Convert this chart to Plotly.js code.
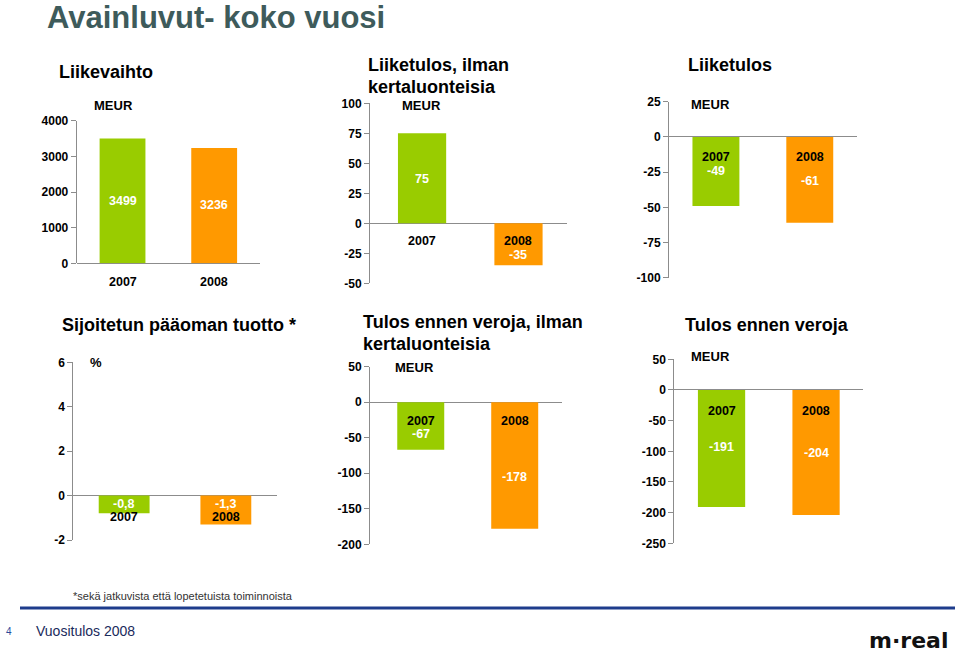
<!DOCTYPE html>
<html>
<head>
<meta charset="utf-8">
<script src="https://cdn.plot.ly/plotly-3.0.1.min.js"></script>
<style>
  html, body { margin: 0; padding: 0; background: #fff; }
  #chart { width: 960px; height: 652px; }
</style>
</head>
<body>
<div id="chart"></div>
<script>
// ---- Data ----
const years = ['2007', '2008'];
const liikevaihto = [3499, 3236];
const liiketulosIlman = [75, -35];
const liiketulos = [-49, -61];
const sijoitetunTuotto = [-0.8, -1.3];
const tulosEnnenIlman = [-67, -178];
const tulosEnnen = [-191, -204];

const liikevaihtoLabels = ['3499', '3236'];
const liiketulosIlmanLabels = ['75', '-35'];
const liiketulosLabels = ['-49', '-61'];
const sijoitetunLabels = ['-0,8', '-1,3'];
const tulosEnnenIlmanLabels = ['-67', '-178'];
const tulosEnnenLabels = ['-191', '-204'];

// tick values per chart
const ticks1 = [0, 1000, 2000, 3000, 4000];
const ticks2 = [-50, -25, 0, 25, 50, 75, 100];
const ticks3 = [-100, -75, -50, -25, 0, 25];
const ticks4 = [-2, 0, 2, 4, 6];
const ticks5 = [-200, -150, -100, -50, 0, 50];
const ticks6 = [-250, -200, -150, -100, -50, 0, 50];

const chartTitles = [
  ['Liikevaihto'],
  ['Liiketulos, ilman', 'kertaluonteisia'],
  ['Liiketulos'],
  ['Sijoitetun pääoman tuotto *'],
  ['Tulos ennen veroja, ilman', 'kertaluonteisia'],
  ['Tulos ennen veroja']
];
const unitLabels = ['MEUR', 'MEUR', 'MEUR', '%', 'MEUR', 'MEUR'];

// ---- Layout helpers ----
const W = 960, H = 652;
const px = v => v / W;
const py = v => 1 - v / H;
const FONT = 'Liberation Sans, Arial, sans-serif';
const GREEN = '#99cc00', ORANGE = '#ff9900', AXIS = '#8c8c8c';

const charts = [
  { vals: liikevaihto, labels: liikevaihtoLabels, ticks: ticks1,
    x0: 76.7, x1: 260, y0: 120.7, y1: 263.3, range: [0, 4000], xr: [-0.5, 1.5],
    title: [57, [72]], unit: [92, 106], yearShift: [-19, -19], valShift: [62, 58] },
  { vals: liiketulosIlman, labels: liiketulosIlmanLabels, ticks: ticks2,
    x0: 370, x1: 566.7, y0: 103.3, y1: 283.3, range: [-50, 100], xr: [-0.54, 1.5],
    title: [366, [65, 87]], unit: [400, 106], yearShift: [-18, -18], valShift: [44, -32] },
  { vals: liiketulos, labels: liiketulosLabels, ticks: ticks3,
    x0: 669, x1: 856.7, y0: 101.7, y1: 277.7, range: [-100, 25], xr: [-0.5, 1.5],
    title: [686, [65]], unit: [689, 105], yearShift: [-20, -20], valShift: [-34, -44] },
  { vals: sijoitetunTuotto, labels: sijoitetunLabels, ticks: ticks4,
    x0: 73.3, x1: 276.7, y0: 362.3, y1: 540, range: [-2, 6], xr: [-0.5, 1.5],
    title: [60, [325]], unit: [88, 362], yearShift: [-21, -21], valShift: [-8, -8] },
  { vals: tulosEnnenIlman, labels: tulosEnnenIlmanLabels, ticks: ticks5,
    x0: 370, x1: 561.7, y0: 366.7, y1: 544.3, range: [-200, 50], xr: [-0.54, 1.5],
    title: [361, [322, 344]], unit: [393, 367], yearShift: [-19, -19], valShift: [-32, -75] },
  { vals: tulosEnnen, labels: tulosEnnenLabels, ticks: ticks6,
    x0: 674.3, x1: 863.3, y0: 359.3, y1: 543.3, range: [-250, 50], xr: [-0.5, 1.5],
    title: [683, [325]], unit: [689, 356], yearShift: [-21, -21], valShift: [-57, -63] }
];

const traces = [];
const layout = {
  width: W, height: H,
  margin: { l: 0, r: 0, t: 0, b: 0 },
  paper_bgcolor: '#fff', plot_bgcolor: 'rgba(0,0,0,0)',
  showlegend: false,
  font: { family: FONT, color: '#000', size: 13 },
  annotations: [],
  shapes: []
};

charts.forEach((c, i) => {
  const n = i === 0 ? '' : String(i + 1);
  const xa = 'x' + n, ya = 'y' + n;
  traces.push({
    type: 'bar', x: [0, 1], y: c.vals, xaxis: xa, yaxis: ya,
    width: 0.5, marker: { color: [GREEN, ORANGE], line: { width: 0 } },
    hoverinfo: 'skip'
  });
  layout['xaxis' + n] = {
    domain: [px(c.x0), px(c.x1)], range: c.xr, type: 'linear',
    showticklabels: false, showline: false, showgrid: false, zeroline: false,
    ticks: '', anchor: ya, fixedrange: true
  };
  layout['yaxis' + n] = {
    domain: [py(c.y1), py(c.y0)], range: c.range,
    tickmode: 'array', tickvals: c.ticks, ticktext: c.ticks.map(v => String(v)),
    showline: true, linecolor: AXIS, linewidth: 1,
    ticks: 'outside', ticklen: 5, tickcolor: AXIS, tickwidth: 1,
    showgrid: false, zeroline: true, zerolinecolor: AXIS, zerolinewidth: 1,
    tickfont: { family: FONT, size: 12, color: '#000', weight: 'bold' },
    anchor: xa, fixedrange: true
  };
  chartTitles[i].forEach((line, k) => {
    layout.annotations.push({
      xref: 'paper', yref: 'paper', x: px(c.title[0]), y: py(c.title[1][k]),
      xanchor: 'left', yanchor: 'middle', align: 'left', showarrow: false,
      text: line, font: { family: FONT, size: 18, color: '#000', weight: 'bold' }
    });
  });
  layout.annotations.push({
    xref: 'paper', yref: 'paper', x: px(c.unit[0]), y: py(c.unit[1]),
    xanchor: 'left', yanchor: 'middle', showarrow: false,
    text: unitLabels[i], font: { family: FONT, size: 13, color: '#000', weight: 'bold' }
  });
  years.forEach((yr, j) => {
    layout.annotations.push({
      xref: xa, yref: ya, x: j, y: 0, yshift: c.yearShift[j],
      xanchor: 'center', yanchor: 'middle', showarrow: false, borderpad: 0,
      text: yr, font: { family: FONT, size: 12.5, color: '#000', weight: 'bold' }
    });
    layout.annotations.push({
      xref: xa, yref: ya, x: j, y: 0, yshift: c.valShift[j],
      xanchor: 'center', yanchor: 'middle', showarrow: false, borderpad: 0,
      text: c.labels[j], font: { family: FONT, size: 12.5, color: '#ffffff', weight: 'bold' }
    });
  });
});

// Slide title
layout.annotations.push({
  xref: 'paper', yref: 'paper', x: px(46), y: py(18),
  xanchor: 'left', yanchor: 'middle', showarrow: false, borderpad: 0,
  text: '<b>Avainluvut- koko vuosi</b>',
  font: { family: FONT, size: 31, color: '#3e5b5b' }
});
// Footnote
layout.annotations.push({
  xref: 'paper', yref: 'paper', x: px(71), y: py(596),
  xanchor: 'left', yanchor: 'middle', showarrow: false,
  text: '*sekä jatkuvista että lopetetuista toiminnoista',
  font: { family: FONT, size: 11, color: '#333333' }
});
// Footer
layout.shapes.push({
  type: 'line', xref: 'paper', yref: 'paper',
  x0: px(20), x1: px(955), y0: py(608), y1: py(608),
  line: { color: '#1e3c8c', width: 3 }
});
layout.annotations.push({
  xref: 'paper', yref: 'paper', x: px(4), y: py(631),
  xanchor: 'left', yanchor: 'middle', showarrow: false,
  text: '4', font: { family: FONT, size: 10, color: '#2a4a9a' }
});
layout.annotations.push({
  xref: 'paper', yref: 'paper', x: px(34), y: py(631),
  xanchor: 'left', yanchor: 'middle', showarrow: false,
  text: 'Vuositulos 2008', font: { family: FONT, size: 14, color: '#1a2a5c' }
});
layout.annotations.push({
  xref: 'paper', yref: 'paper', x: px(950), y: py(640),
  xanchor: 'right', yanchor: 'middle', showarrow: false,
  text: 'm·real', font: { family: 'DejaVu Sans, sans-serif', size: 22, color: '#111', weight: 'bold' }
});

Plotly.newPlot('chart', traces, layout, { displayModeBar: false, staticPlot: true });
</script>
</body>
</html>
